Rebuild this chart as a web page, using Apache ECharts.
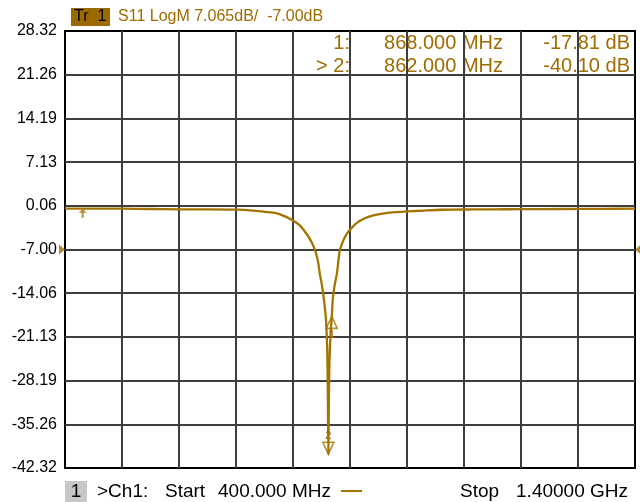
<!DOCTYPE html>
<html><head><meta charset="utf-8">
<script src="https://cdn.jsdelivr.net/npm/echarts@6/dist/echarts.min.js"></script>
<style>html,body{margin:0;padding:0;background:#fff}#c{width:640px;height:502px}</style>
</head><body><div id="c"></div>
<script>
// ---- data ----
const freqMHz = [400, 450, 500, 550, 600, 650, 700, 730, 750, 770, 785, 800, 812, 824, 832, 839, 844, 847, 850, 853, 856, 858, 860, 861, 862, 863, 864, 866, 868, 870, 873, 877, 882, 888, 894, 903, 912, 925, 941, 960, 980, 1000, 1030, 1060, 1100, 1150, 1200, 1270, 1340, 1400];
const s11dB = [-0.4, -0.4, -0.4, -0.45, -0.5, -0.5, -0.55, -0.7, -0.9, -1.1, -1.6, -2.3, -3.1, -4.5, -5.7, -7.2, -9.0, -10.9, -12.4, -14.2, -16.5, -18.5, -23, -29, -40.1, -31, -25, -20.5, -17.81, -14.8, -12.8, -10.9, -7.2, -5.6, -4.5, -3.5, -2.7, -2.0, -1.5, -1.15, -0.95, -0.85, -0.7, -0.57, -0.53, -0.5, -0.48, -0.45, -0.42, -0.4];
const yTickValues = [-42.325, -35.26, -28.195, -21.13, -14.065, -7.0, 0.065, 7.13, 14.195, 21.26, 28.325];
const yTickLabels = ['-42.32', '-35.26', '-28.19', '-21.13', '-14.06', '-7.00', '0.06', '7.13', '14.19', '21.26', '28.32'];
const markerNames = ['1', '2'];
const markerFreqs = [868.000, 862.000];
const markerValues = [-17.81, -40.10];
const activeMarker = '2';
const refLevel = -7.00;
const startArrow = [431, -0.4];
const startMHz = 400, stopMHz = 1400, xStep = 100;
const headerTrace = 'Tr  1';
const headerText = 'S11 LogM 7.065dB/  -7.00dB';

// ---- style ----
const BROWN = '#9e6c00';
const TRACE = '#a47400';
const FONT = '"Liberation Sans", Arial, sans-serif';

const chart = echarts.init(document.getElementById('c'), null, {renderer: 'canvas'});

const traceData = freqMHz.map((f, i) => [f, s11dB[i]]);

const markerData = markerNames.map((n, i) => {
  const up = (n !== activeMarker);
  return {
    value: [markerFreqs[i], markerValues[i]],
    name: n,
    symbol: up ? 'path://M6,0 L12,13 L0,13 Z' : 'path://M0,0 L12,0 L6,13 Z',
    symbolSize: [11, 12],
    symbolOffset: [0, up ? '50%' : '-50%'],
    label: {show: true, formatter: n, position: up ? 'bottom' : 'top', distance: 0,
            color: BROWN, fontSize: 11, fontWeight: 'bold', fontFamily: FONT}
  };
});

const graphics = [];
// header
graphics.push({type: 'rect', shape: {x: 71, y: 8, width: 39, height: 18}, style: {fill: '#9a6a00'}});
graphics.push({type: 'text', style: {text: headerTrace, x: 74, y: 17, font: '16px ' + FONT, fill: '#000', verticalAlign: 'middle'}});
graphics.push({type: 'text', style: {text: headerText, x: 118, y: 17, font: '16px ' + FONT, fill: BROWN, verticalAlign: 'middle'}});
// marker table
const rowY = [43, 66];
markerNames.forEach((n, i) => {
  const pre = (n === activeMarker ? '> ' : '') + n + ':';
  graphics.push({type: 'text', style: {text: pre, x: 350, y: rowY[i], font: '20px ' + FONT, fill: BROWN, align: 'right', verticalAlign: 'middle'}});
  graphics.push({type: 'text', style: {text: markerFreqs[i].toFixed(3) + ' MHz', x: 503, y: rowY[i], font: '20px ' + FONT, fill: BROWN, align: 'right', verticalAlign: 'middle'}});
  graphics.push({type: 'text', style: {text: markerValues[i].toFixed(2) + ' dB', x: 630, y: rowY[i], font: '20px ' + FONT, fill: BROWN, align: 'right', verticalAlign: 'middle'}});
});
// bottom bar
const BF = '19px ' + FONT;
graphics.push({type: 'rect', shape: {x: 65, y: 481, width: 22, height: 21}, style: {fill: '#c8c8c8'}});
graphics.push({type: 'text', style: {text: '1', x: 76, y: 492, font: BF, fill: '#000', align: 'center', verticalAlign: 'middle'}});
graphics.push({type: 'text', style: {text: '>Ch1:', x: 97, y: 492, font: BF, fill: '#000', verticalAlign: 'middle'}});
graphics.push({type: 'text', style: {text: 'Start', x: 165, y: 492, font: BF, fill: '#000', verticalAlign: 'middle'}});
graphics.push({type: 'text', style: {text: startMHz.toFixed(3) + ' MHz', x: 218, y: 492, font: BF, fill: '#000', verticalAlign: 'middle'}});
graphics.push({type: 'line', shape: {x1: 341, y1: 491, x2: 362, y2: 491}, style: {stroke: TRACE, lineWidth: 2}});
graphics.push({type: 'text', style: {text: 'Stop', x: 460, y: 492, font: BF, fill: '#000', verticalAlign: 'middle'}});
graphics.push({type: 'text', style: {text: (stopMHz / 1000).toFixed(5) + ' GHz', x: 628, y: 492, font: BF, fill: '#000', align: 'right', verticalAlign: 'middle'}});

const option = {
  animation: false,
  backgroundColor: '#fff',
  grid: {left: 65, right: 5, top: 31, bottom: 34, show: true, borderColor: '#000', borderWidth: 2, backgroundColor: 'transparent'},
  xAxis: {
    type: 'value', min: startMHz, max: stopMHz, interval: xStep,
    axisLine: {show: false}, axisTick: {show: false}, axisLabel: {show: false},
    splitLine: {show: true, showMinLine: false, showMaxLine: false, lineStyle: {color: '#3e3e3e', width: 2}}
  },
  yAxis: {
    type: 'value', min: yTickValues[0], max: yTickValues[yTickValues.length - 1],
    axisLine: {show: false},
    axisTick: {show: false, customValues: yTickValues},
    axisLabel: {
      show: true, customValues: yTickValues, margin: 8,
      color: '#000', fontSize: 16, fontFamily: FONT,
      formatter: function (v) {
        let best = 0, bd = Infinity;
        yTickValues.forEach((t, i) => { const d = Math.abs(t - v); if (d < bd) { bd = d; best = i; } });
        return yTickLabels[best];
      }
    },
    splitLine: {show: true, showMinLine: false, showMaxLine: false, lineStyle: {color: '#3e3e3e', width: 2}}
  },
  series: [
    {
      type: 'line', data: traceData, showSymbol: false, smooth: 0.2, z: 3,
      lineStyle: {color: TRACE, width: 2.3}, clip: true
    },
    {
      type: 'scatter', data: markerData, z: 4, clip: false,
      itemStyle: {color: 'rgba(255,255,255,0)', borderColor: TRACE, borderWidth: 1.6}
    },
    {
      type: 'scatter', z: 4, clip: false,
      data: [{value: startArrow, symbol: 'path://M4,0 L8,4 L5,4 L5,9 L3,9 L3,4 L0,4 Z', symbolSize: [8, 9], symbolOffset: [0, '50%']}],
      itemStyle: {color: TRACE}
    },
    {
      type: 'scatter', z: 5, clip: false,
      data: [
        {value: [startMHz, refLevel], symbol: 'path://M0,0 L7,5 L0,10 Z', symbolSize: [6, 10], symbolOffset: [-3, 0]},
        {value: [stopMHz, refLevel], symbol: 'path://M7,0 L0,5 L7,10 Z', symbolSize: [6, 10], symbolOffset: [3, 0]}
      ],
      itemStyle: {color: '#9a6a00'}
    }
  ],
  graphic: graphics
};
chart.setOption(option);
</script>
</body></html>
